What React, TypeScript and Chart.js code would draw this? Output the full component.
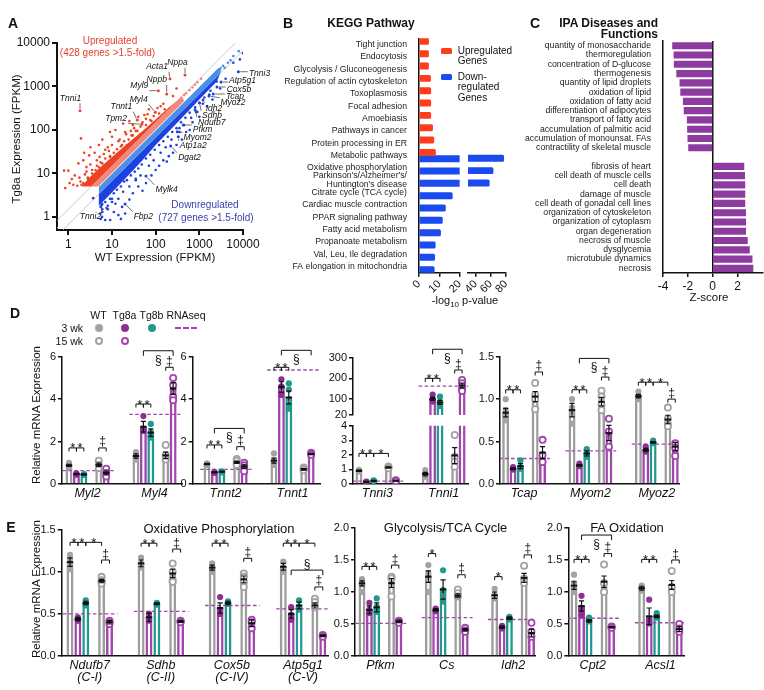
import React, { useEffect, useRef } from "react";
import { Chart, registerables } from "chart.js";

Chart.register(...registerables);

const FONT = "'Liberation Sans', Arial, Helvetica, sans-serif";
const INK = "#111111";
const GRAY = "#9d9d9d";
const GRAY_DOT = "#a3a3a3";
const PURPLE = "#a246ae";
const PURPLE_DOT = "#8e2f96";
const TEAL = "#1e9a8d";
const UP_RED = "#ee4224";
const UP_SALMON = "#f2877c";
const DOWN_BLUE = "#1f40e0";
const DOWN_LIGHT = "#4890ea";
const KEGG_RED = "#ff3d1c";
const KEGG_BLUE = "#1a4af0";
const IPA_PURPLE = "#8e3b9f";

// ================= Panel A data =================
const aTicks = [1, 10, 100, 1000, 10000];
const aFoldCut = 1.5;
const aDiagX = [0.3, 15000];
const aRedPts = [
  [0.8, 11.6], [1.0, 11.6], [1.2, 7.4], [1.7, 17], [1.07, 6], [0.85, 4.6], [1.3, 5.5], [1.4, 9],
  [1.95, 64], [2.2, 20], [2.6, 14], [3.0, 26], [2.3, 30], [4.0, 30], [5.0, 45], [3.5, 12],
  [6.0, 60], [8.0, 40], [10, 70], [12, 100], [7, 35], [15, 60], [20, 90], [18, 140], [25, 160],
  [30, 130], [40, 200], [60, 180], [70, 300], [110, 320], [150, 400], [250, 600], [300, 900],
  [130, 350], [45, 80], [22, 45], [9, 25], [4.5, 15], [2.8, 8], [13, 28], [1.9, 6.5], [2.4, 9.5],
  [5.5, 18], [17, 45], [35, 95], [80, 160], [55, 220], [28, 75], [3.2, 40], [9, 90],
  [2.2, 6], [2.8, 7.5], [3.5, 10], [4.2, 12], [5, 14], [6, 17], [7, 22], [9, 24], [11, 30], [13, 36],
  [16, 42], [19, 55], [24, 60], [30, 75], [38, 95], [45, 120], [60, 130], [75, 170], [90, 210],
  [120, 240], [160, 300], [2.0, 5.5], [2.6, 11], [3.2, 16], [4.5, 20], [6.5, 28], [10, 45], [14, 55],
  [21, 80], [32, 110], [50, 150], [1.6, 5.2], [1.8, 8], [5.2, 24], [8.5, 33], [27, 95], [65, 230],
];
const aSalmonPts = [[500, 700], [600, 820], [700, 950], [900, 1250], [1100, 1500], [450, 640], [800, 1100]];
const aLightPts = [[3500, 3000], [4500, 3500], [6000, 5000], [8000, 6500], [3800, 2700], [5200, 4000]];
const aBluePts = [
  [10000, 5800], [8500, 4200], [6000, 3500], [2500, 1300], [1800, 800], [350, 110], [180, 18.7],
  [5.9, 1.0], [7, 0.85], [9.1, 0.85], [14, 1.1], [17, 1.7], [5.4, 1.2], [8, 1.5], [11, 1.3],
  [6, 2.0], [30, 3.5], [40, 5], [60, 6], [100, 12], [150, 20], [250, 30], [400, 60], [600, 100],
  [1000, 200], [1500, 350], [700, 150], [25, 2.5], [12, 2.0], [50, 4], [80, 9], [120, 15],
  [300, 45], [3.7, 2.7], [5.5, 0.9], [16, 0.9], [500, 90], [2000, 500], [3000, 900], [4000, 1500],
  [20, 1.2], [7.5, 1.6], [10, 2.6], [35, 7], [200, 25], [900, 260],
  [5.5, 1.7], [6, 1.5], [7, 2.2], [9, 2.6], [11, 3.5], [13, 4.2], [16, 5], [19, 6.5], [22, 7], [27, 9],
  [33, 11], [40, 13], [48, 16], [60, 22], [75, 27], [95, 35], [120, 45], [150, 55], [190, 70], [240, 90],
  [300, 110], [380, 150], [480, 190], [600, 250], [800, 330], [1000, 420], [1300, 560], [6, 1.3],
  [8, 1.8], [10, 2.2], [14, 2.6], [18, 3.8], [25, 5], [35, 7.5], [45, 9], [70, 15], [90, 20], [130, 30],
  [170, 40], [230, 60], [350, 90], [450, 130], [650, 190], [850, 260], [1200, 400], [1700, 650],
];
const aRedCloud = [
  [2.0, 5], [3, 8], [5, 13], [10, 24], [20, 44], [50, 95], [100, 175], [200, 330], [300, 460], [300, 450], [3.33, 5],
];
const aSalmonBand = [[3.33, 5], [400, 600], [450, 450], [5, 5]];
const aBlueBand = [[5, 3.33], [3000, 2000], [3300, 2900], [2500, 2500], [5, 5]];
const aBlueCloud = [
  [5, 3.33], [5, 1.8], [8, 2.9], [20, 7.5], [50, 20], [100, 45], [300, 140], [1000, 500], [2500, 1300], [3000, 2000],
];
const aGenes = ["Tnni1", "Acta1", "Nppa", "Nppb", "Myl9", "Myl4", "Tnnt1", "Tpm2", "Tnni3", "Atp5g1", "Cox5b", "Tcap", "Myoz2", "Idh2", "Sdhb", "Ndufb7", "Pfkm", "Myom2", "Atp1a2", "Dgat2", "Mylk4", "Tnni2", "Fbp2"];
const aGeneWT = [1.85, 213, 470, 179, 115, 98, 38, 48, 7816, 3140, 2540, 2090, 1667, 1214, 1010, 797, 430, 313, 330, 221, 60, 5.8, 19.9];
const aGeneTg = [277, 1508, 1835, 671, 799, 255, 169, 135, 2185, 1267, 972, 671, 603, 489, 416, 288, 130, 91, 70, 42.7, 8.7, 1.88, 1.98];
// label placement (pixels, style only)
const aLabelDx = [-9.5, -13, -7.5, -10, -19, -16.6, -16, -25.7, 21.2, 21.5, 22, 21.7, 24, 11, 12.5, 16.7, 19.2, 20.2, 15, 18.8, 20.7, -11.2, 18.3];
const aLabelDy = [-12.4, -12, -12.3, -14, -4.7, -13, -13.3, -6, 1.6, -1, 2.3, 2.7, 6.7, 8.3, 12.7, 12.3, 5, 5.6, 9, 11.7, 14, 11.7, 12.7];

// ================= Panel B data =================
const keggLabels = [
  "Tight junction", "Endocytosis", "Glycolysis / Gluconeogenesis", "Regulation of actin cytoskeleton",
  "Toxoplasmosis", "Focal adhesion", "Amoebiasis", "Pathways in cancer", "Protein processing in ER",
  "Metabolic pathways", "Oxidative phosphorylation", ["Parkinson's/Alzheimer's/", "Huntington's disease"],
  "Citrate cycle (TCA cycle)", "Cardiac muscle contraction", "PPAR signaling pathway",
  "Fatty acid metabolism", "Propanoate metabolism", "Val, Leu, Ile degradation", "FA elongation in mitochondria",
];
const keggUp = [4.7, 4.7, 4.7, 5.7, 5.8, 5.8, 5.8, 6.7, 7.3, 8.1, null, null, null, null, null, null, null, null, null];
const keggDown = [null, null, null, null, null, null, null, null, null, 77, 63, 58, 16.4, 13, 11.5, 10.6, 8, 7.7, 7.5];
const keggTicksLow = [0, 10, 20];
const keggTicksHigh = [40, 60, 80];

// ================= Panel C data =================
const ipaLabels = [
  "quantity of monosaccharide", "thermoregulation", "concentration of D-glucose", "thermogenesis",
  "quantity of lipid droplets", "oxidation of lipid", "oxidation of fatty acid", "differentiation of adipocytes",
  "transport of fatty acid", "accumulation of palmitic acid", "accumulation of monounsat. FAs",
  "contractility of skeletal muscle", "",
  "fibrosis of heart", "cell death of muscle cells", "cell death", "damage of muscle",
  "cell death of gonadal cell lines", "organization of cytoskeleton", "organization of cytoplasm",
  "organ degeneration", "necrosis of muscle", "dysglycemia", "microtubule dynamics", "necrosis",
];
const ipaZ = [-3.23, -3.12, -3.1, -2.9, -2.64, -2.58, -2.37, -2.3, -2.05, -2.03, -2.0, -1.94, null,
  2.52, 2.58, 2.6, 2.6, 2.6, 2.66, 2.66, 2.66, 2.8, 2.96, 3.18, 3.25];
const ipaTicks = [-4, -2, 0, 2];

// ================= Panel D data =================
// groups: [WT 3wk, Tg8a 3wk, Tg8b 3wk, WT 15wk, Tg8a 15wk]
const dNames = ["Myl2", "Myl4", "Tnnt2", "Tnnt1", "Tnni3", "Tnni1", "Tcap", "Myom2", "Myoz2"];
const dMean = [
  [0.88, 0.47, 0.45, 0.9, 0.52],
  [1.32, 2.7, 2.42, 1.35, 4.5],
  [0.94, 0.55, 0.58, 1.02, 0.82],
  [1.1, 4.58, 4.08, 0.69, 1.41],
  [0.91, 0.15, 0.22, 1.14, 0.23],
  [0.68, 100, 82, 1.95, 165],
  [0.84, 0.18, 0.21, 1.03, 0.37],
  [0.87, 0.22, 0.36, 0.97, 0.6],
  [1.035, 0.4, 0.49, 0.76, 0.44],
];
const dSem = [
  [0.05, 0.03, 0.02, 0.08, 0.09],
  [0.1, 0.25, 0.18, 0.15, 0.28],
  [0.03, 0.02, 0.02, 0.05, 0.08],
  [0.12, 0.25, 0.3, 0.04, 0.03],
  [0.04, 0.02, 0.02, 0.04, 0.02],
  [0.12, 8, 10, 0.55, 12],
  [0.05, 0.01, 0.03, 0.06, 0.07],
  [0.08, 0.01, 0.03, 0.05, 0.09],
  [0.02, 0.02, 0.01, 0.05, 0.05],
];
const dPts = [
  [[1.0, 0.88, 0.8], [0.5, 0.47, 0.44], [0.47, 0.45, 0.43], [1.1, 0.9, 0.75], [0.72, 0.52, 0.35]],
  [[1.5, 1.3, 1.15], [3.2, 2.6, 2.5, 2.5], [2.83, 2.45, 2.2, 2.2], [1.84, 1.36, 1.2, 1.15], [5.0, 4.65, 4.1, 3.95]],
  [[0.97, 0.93, 0.9], [0.57, 0.53, 0.52], [0.6, 0.57, 0.55], [1.18, 1.1, 0.97, 0.9], [1.0, 0.88, 0.75, 0.6]],
  [[1.44, 1.1, 1.0, 0.9], [4.93, 4.6, 4.2], [4.74, 4.45, 3.7, 3.55], [0.78, 0.72, 0.65], [1.47, 1.42, 1.38]],
  [[0.97, 0.9, 0.86], [0.17, 0.14, 0.12], [0.25, 0.21, 0.2], [1.2, 1.15, 1.08], [0.26, 0.22, 0.2]],
  [[0.96, 0.68, 0.5], [120, 96, 86], [110, 85, 69, 64], [3.36, 1.87, 1.53, 1.19], [192, 176, 150, 138]],
  [[1.0, 0.87, 0.8, 0.75], [0.2, 0.18, 0.17], [0.28, 0.2, 0.18], [1.19, 1.05, 1.0, 0.88], [0.52, 0.34, 0.26]],
  [[1.0, 0.9, 0.86, 0.71], [0.24, 0.22, 0.21], [0.41, 0.35, 0.32], [1.1, 1.03, 0.93, 0.87], [0.77, 0.62, 0.44]],
  [[1.09, 1.04, 1.0], [0.44, 0.4, 0.38], [0.51, 0.49, 0.48], [0.9, 0.77, 0.7, 0.68], [0.48, 0.43, 0.33]],
];
const dRna = [0.63, 3.28, 0.69, 5.37, 0.2, 162, 0.3, 0.39, 0.47];
// [gene, fromGroup, toGroup, y, symbol, kind(0 small,1 big symbol below,2 big symbol above)]
const dBrk = [
  [0, 0, 1, 1.7, "*", 0], [0, 1, 2, 1.7, "*", 0], [0, 3, 4, 1.7, "‡", 0],
  [1, 0, 1, 3.77, "*", 0], [1, 1, 2, 3.77, "*", 0], [1, 3, 4, 5.5, "‡", 0], [1, 1, 4, 6.28, "§", 1],
  [2, 0, 1, 1.84, "*", 0], [2, 1, 2, 1.84, "*", 0], [2, 3, 4, 1.76, "‡", 0], [2, 1, 4, 2.62, "§", 1],
  [3, 0, 1, 5.5, "*", 0], [3, 1, 2, 5.5, "*", 0], [3, 1, 4, 6.3, "§", 1],
  [4, 0, 1, 2.1, "*", 0], [4, 1, 2, 2.1, "*", 0], [4, 2, 3, 2.1, "*", 0],
  [5, 0, 1, 200, "*", 0], [5, 1, 2, 200, "*", 0], [5, 3, 4, 241, "‡", 0], [5, 1, 4, 343, "§", 1],
  [6, 0, 1, 1.11, "*", 0], [6, 1, 2, 1.11, "*", 0], [6, 3, 4, 1.32, "‡", 0],
  [7, 0, 1, 1.11, "*", 0], [7, 1, 2, 1.11, "*", 0], [7, 3, 4, 1.26, "‡", 0], [7, 1, 4, 1.48, "§", 1],
  [8, 0, 1, 1.2, "*", 0], [8, 1, 2, 1.2, "*", 0], [8, 2, 3, 1.2, "*", 0], [8, 3, 4, 1.0, "‡", 0],
];

// ================= Panel E data =================
const eNames = [["Ndufb7", "(C-I)"], ["Sdhb", "(C-II)"], ["Cox5b", "(C-IV)"], ["Atp5g1", "(C-V)"], "Pfkm", "Cs", "Idh2", "Cpt2", "Acsl1"];
const eMean = [
  [1.115, 0.44, 0.63, 0.89, 0.4],
  [1.1, 0.46, 0.62, 0.98, 0.41],
  [1.05, 0.57, 0.63, 0.91, 0.39],
  [1.06, 0.5, 0.6, 0.6, 0.24],
  [1.135, 0.72, 0.76, 1.14, 0.54],
  [1.24, 0.72, 1.04, 0.94, 0.41],
  [0.95, 0.45, 0.59, 1.22, 0.36],
  [1.1, 0.78, 0.55, 1.16, 0.45],
  [1.06, 0.62, 0.62, 1.11, 0.42],
];
const eSem = [
  [0.05, 0.02, 0.02, 0.02, 0.02],
  [0.04, 0.05, 0.01, 0.05, 0.01],
  [0.03, 0.06, 0.02, 0.04, 0.04],
  [0.04, 0.05, 0.04, 0.03, 0.01],
  [0.04, 0.06, 0.07, 0.07, 0.02],
  [0.09, 0.02, 0.15, 0.03, 0.02],
  [0.05, 0.02, 0.02, 0.07, 0.06],
  [0.06, 0.08, 0.02, 0.09, 0.01],
  [0.03, 0.13, 0.02, 0.07, 0.04],
];
const ePts = [
  [[1.2, 1.15, 1.08, 1.03], [0.46, 0.43, 0.42], [0.66, 0.62, 0.6], [0.94, 0.9, 0.88, 0.86], [0.42, 0.4, 0.38]],
  [[1.17, 1.1, 1.05], [0.5, 0.45, 0.42], [0.63, 0.62, 0.61], [1.1, 1.0, 0.9, 0.88], [0.42, 0.41, 0.4]],
  [[1.1, 1.05, 1.0], [0.7, 0.55, 0.5], [0.65, 0.63, 0.62], [0.98, 0.94, 0.88, 0.82], [0.43, 0.4, 0.33]],
  [[1.12, 1.05, 1.0], [0.58, 0.49, 0.43], [0.66, 0.58, 0.55], [0.68, 0.64, 0.58], [0.25, 0.24, 0.23]],
  [[1.2, 1.15, 1.12, 1.0], [0.83, 0.72, 0.67], [0.9, 0.77, 0.69], [1.24, 1.21, 0.93], [0.55, 0.54, 0.52]],
  [[1.42, 1.3, 1.25, 1.0], [0.74, 0.72, 0.7], [1.34, 1.03, 0.85], [1.04, 0.98, 0.93], [0.44, 0.4, 0.38]],
  [[1.05, 0.95, 0.9], [0.47, 0.45, 0.43], [0.61, 0.59, 0.57], [1.41, 1.21, 1.14], [0.52, 0.38, 0.3]],
  [[1.27, 1.14, 1.03, 1.0], [0.94, 0.74, 0.72, 0.64], [0.6, 0.56, 0.54], [1.43, 1.14, 1.0], [0.46, 0.45, 0.44]],
  [[1.1, 1.07, 1.02], [0.88, 0.56, 0.51], [0.67, 0.63, 0.6], [1.33, 1.08, 1.0], [0.5, 0.43, 0.38]],
];
const eRna = [0.5, 0.53, 0.6, 0.56, 0.51, 0.6, 0.57, 0.59, 0.52];
const eBrk = [
  [0, 0, 1, 1.35, "*", 0], [0, 1, 2, 1.35, "*", 0], [0, 2, 3, 1.35, "*", 0], [0, 3, 4, 1.14, "‡", 0],
  [1, 0, 1, 1.34, "*", 0], [1, 1, 2, 1.34, "*", 0], [1, 3, 4, 1.27, "‡", 0],
  [2, 0, 1, 1.34, "*", 0], [2, 1, 2, 1.34, "*", 0], [2, 3, 4, 1.16, "‡", 0],
  [3, 0, 1, 1.34, "*", 0], [3, 1, 2, 1.34, "*", 0], [3, 2, 3, 1.34, "*", 0], [3, 1, 4, 1.02, "§", 2], [3, 3, 4, 0.82, "‡", 0],
  [4, 0, 1, 1.4, "*", 0], [4, 1, 2, 1.4, "*", 0], [4, 3, 4, 1.42, "‡", 0],
  [5, 0, 1, 1.6, "*", 0], [5, 3, 4, 1.27, "‡", 0],
  [6, 0, 1, 1.24, "*", 0], [6, 3, 4, 1.58, "‡", 0],
  [7, 0, 1, 1.51, "*", 0], [7, 1, 2, 1.51, "*", 0], [7, 3, 4, 1.6, "‡", 0], [7, 1, 4, 1.89, "§", 1],
  [8, 0, 1, 1.51, "*", 0], [8, 1, 2, 1.51, "*", 0], [8, 3, 4, 1.5, "‡", 0],
];

const dSet = { names: dNames, mean: dMean, sem: dSem, pts: dPts, rna: dRna, brk: dBrk };
const eSet = { names: eNames, mean: eMean, sem: eSem, pts: ePts, rna: eRna, brk: eBrk };

// ================= layout / style =================
const GENE_STEP = 9;
const SLOT = [0, 1, 2, 4, 5];
const LABEL_POS = 2.5;
const RNA_FROM = -0.9;
const RNA_TO = 6.0;
const BAR_LINE = [GRAY, PURPLE, TEAL, GRAY, PURPLE];
const DOT_FILL = [GRAY_DOT, PURPLE_DOT, TEAL, "#ffffff", "#ffffff"];
const DOT_LINE = [GRAY_DOT, PURPLE_DOT, TEAL, GRAY_DOT, PURPLE];
const DOT_BW = [0, 0, 0, 1.8, 1.8];

type Box = { x: number; y: number; w: number; h: number };
type Area = { l: number; t: number; r: number; b: number };

function frame(box: Box, area: Area, o: { hideX?: boolean; hideY?: boolean }) {
  const yw = area.l - box.x;
  const xh = box.y + box.h - area.b;
  return {
    padding: { top: area.t - box.y, right: box.x + box.w - area.r, left: o.hideY ? yw : 0, bottom: o.hideX ? xh : 0 },
    yw,
    xh,
  };
}

const axisBorder = { display: true, color: INK, width: 1.5 };
const tickGrid = { display: true, drawOnChartArea: false, drawTicks: true, tickLength: 4, color: INK, lineWidth: 1.5 };
const baseOpts = {
  animation: false,
  responsive: false,
  maintainAspectRatio: false,
  events: [],
};
const noPlugins = { legend: { display: false }, tooltip: { enabled: false } };

const boxA: Box = { x: 0, y: 30, w: 290, h: 250 };
const areaA: Area = { l: 57, t: 43, r: 243, b: 230 };
const boxB1: Box = { x: 285, y: 30, w: 185, h: 272 };
const areaB1: Area = { l: 419, t: 37.5, r: 460, b: 272.7 };
const boxB2: Box = { x: 452, y: 30, w: 70, h: 272 };
const areaB2: Area = { l: 468, t: 37.5, r: 506, b: 272.7 };
const boxC: Box = { x: 515, y: 30, w: 249, h: 282 };
const areaC: Area = { l: 663, t: 41.1, r: 762.3, b: 273 };

const xy = (arr: number[][]) => arr.map(([x, y]) => ({ x, y }));

function configA(): any {
  const f = frame(boxA, areaA, {});
  const poly = (pts: number[][], color: string, order: number) => ({
    type: "line", data: xy(pts), fill: "shape", backgroundColor: color, borderColor: "rgba(0,0,0,0)",
    borderWidth: 0, pointRadius: 0, tension: 0, order,
  });
  const pts = (arr: number[][], color: string, order: number) => ({
    type: "scatter", data: xy(arr), backgroundColor: color, pointRadius: 1.3, borderWidth: 0, order,
  });
  const labelPlugin = {
    id: "aLabels",
    afterDatasetsDraw(chart: any) {
      const { ctx } = chart;
      const x = chart.scales.x, y = chart.scales.y;
      ctx.save();
      ctx.font = `italic 8.5px ${FONT}`;
      ctx.fillStyle = INK;
      ctx.strokeStyle = "#333";
      ctx.lineWidth = 0.7;
      ctx.textAlign = "center";
      ctx.textBaseline = "middle";
      aGenes.forEach((name, i) => {
        const px = x.getPixelForValue(aGeneWT[i]);
        const py = y.getPixelForValue(aGeneTg[i]);
        const tx = px + aLabelDx[i], ty = py + aLabelDy[i];
        const w = ctx.measureText(name).width;
        const l = tx - w / 2 - 1, r = tx + w / 2 + 1, t = ty - 5, b = ty + 5;
        const ex = Math.min(Math.max(px, l), r), ey = Math.min(Math.max(py, t), b);
        const dx = ex - px, dy = ey - py, d = Math.hypot(dx, dy);
        if (d > 3) {
          ctx.beginPath();
          ctx.moveTo(px + (dx / d) * 2, py + (dy / d) * 2);
          ctx.lineTo(ex, ey);
          ctx.stroke();
        }
        ctx.fillText(name, tx, ty);
      });
      ctx.restore();
    },
  };
  const axisFont = { family: FONT, size: 12 };
  return {
    type: "scatter",
    data: {
      datasets: [
        { type: "line", data: aDiagX.map((v) => ({ x: v, y: v * aFoldCut })), borderColor: "#bdbdbd", borderWidth: 0.8, pointRadius: 0, order: 20 },
        { type: "line", data: aDiagX.map((v) => ({ x: v, y: v / aFoldCut })), borderColor: "#bdbdbd", borderWidth: 0.8, pointRadius: 0, order: 20 },
        poly(aBlueCloud, DOWN_BLUE, 15),
        poly(aRedCloud, UP_RED, 15),
        poly(aBlueBand, DOWN_LIGHT, 14),
        poly(aSalmonBand, UP_SALMON, 14),
        { type: "line", data: aDiagX.map((v) => ({ x: v, y: v })), borderColor: "#ffffff", borderWidth: 0.9, pointRadius: 0, order: 13 },
        pts(aBluePts, DOWN_BLUE, 10),
        pts(aRedPts, UP_RED, 10),
        pts(aSalmonPts, UP_SALMON, 10),
        pts(aLightPts, DOWN_LIGHT, 10),
        {
          type: "scatter",
          data: aGenes.map((_, i) => ({ x: aGeneWT[i], y: aGeneTg[i] })),
          backgroundColor: aGenes.map((_, i) => (aGeneTg[i] > aGeneWT[i] ? UP_RED : DOWN_BLUE)),
          pointRadius: 1.5, borderWidth: 0, order: 5,
        },
      ],
    },
    options: {
      ...baseOpts,
      layout: { padding: f.padding },
      plugins: noPlugins,
      scales: {
        x: {
          type: "logarithmic", min: 0.55, max: 10000,
          afterBuildTicks: (s: any) => { s.ticks = aTicks.map((v) => ({ value: v })); },
          afterFit: (s: any) => { s.height = f.xh; },
          ticks: { font: axisFont, color: INK, padding: 2, maxRotation: 0, autoSkip: false, callback: (v: any) => String(v) },
          grid: { ...tickGrid, tickLength: 5, lineWidth: 2 },
          border: { ...axisBorder, width: 2 },
        },
        y: {
          type: "logarithmic", min: 0.5, max: 10000,
          afterBuildTicks: (s: any) => { s.ticks = aTicks.map((v) => ({ value: v })); },
          afterFit: (s: any) => { s.width = f.yw; },
          ticks: { font: axisFont, color: INK, padding: 2, autoSkip: false, callback: (v: any) => String(v) },
          grid: { ...tickGrid, tickLength: 5, lineWidth: 2 },
          border: { ...axisBorder, width: 2 },
        },
      },
    },
    plugins: [labelPlugin],
  };
}

function configKegg(high: boolean): any {
  const box = high ? boxB2 : boxB1;
  const area = high ? areaB2 : areaB1;
  const f = frame(box, area, { hideY: high });
  const ds = (data: any[], color: string) => ({
    data, backgroundColor: color, borderWidth: 0, barThickness: 6.3, clip: 0, borderRadius: 1.5,
  });
  return {
    type: "bar",
    data: { labels: keggLabels, datasets: [ds(keggUp, KEGG_RED), ds(keggDown, KEGG_BLUE)] },
    options: {
      ...baseOpts,
      indexAxis: "y",
      layout: { padding: f.padding },
      plugins: noPlugins,
      scales: {
        x: {
          type: "linear", min: high ? 30 : 0, max: high ? 80 : 20,
          afterBuildTicks: (s: any) => { s.ticks = (high ? keggTicksHigh : keggTicksLow).map((v) => ({ value: v })); },
          afterFit: (s: any) => { s.height = f.xh; },
          ticks: { font: { family: FONT, size: 11 }, color: INK, minRotation: 45, maxRotation: 45, padding: 1, autoSkip: false },
          grid: tickGrid,
          border: axisBorder,
        },
        y: {
          display: !high,
          afterFit: high ? undefined : (s: any) => { s.width = f.yw; },
          ticks: { font: { family: FONT, size: 8.7, lineHeight: 1.0 }, color: "#222", autoSkip: false, padding: 4 },
          grid: { display: false },
          border: axisBorder,
        },
      },
    },
  };
}

function configIpa(): any {
  const f = frame(boxC, areaC, {});
  return {
    type: "bar",
    data: { labels: ipaLabels, datasets: [{ data: ipaZ, backgroundColor: IPA_PURPLE, borderWidth: 0, barThickness: 6.5 }] },
    options: {
      ...baseOpts,
      indexAxis: "y",
      layout: { padding: f.padding },
      plugins: noPlugins,
      scales: {
        x: {
          type: "linear", min: -4, max: 4,
          afterBuildTicks: (s: any) => { s.ticks = ipaTicks.map((v) => ({ value: v })); },
          afterFit: (s: any) => { s.height = f.xh; },
          ticks: { font: { family: FONT, size: 12 }, color: INK, padding: 2, maxRotation: 0, autoSkip: false },
          grid: {
            display: true, drawOnChartArea: true, drawTicks: true, tickLength: 4, lineWidth: 1.5,
            color: (c: any) => (c.tick && c.tick.value === 0 ? INK : "rgba(0,0,0,0)"),
            tickColor: INK,
          },
          border: axisBorder,
        },
        y: {
          afterFit: (s: any) => { s.width = f.yw; },
          ticks: { font: { family: FONT, size: 8.7 }, color: "#222", autoSkip: false, padding: 4 },
          grid: { display: false },
          border: axisBorder,
        },
      },
    },
  };
}

type Spec = {
  key: string; set: any; genes: number[]; box: Box; area: Area; xMin: number; xMax: number;
  yMin: number; yMax: number; yTicks: number[]; dec: number; showX: boolean; clip: boolean;
};

function dotBarPlugin(p: Spec) {
  return {
    id: "dotbar",
    afterDatasetsDraw(chart: any) {
      const { ctx, chartArea: ca } = chart;
      const xs = chart.scales.x, ys = chart.scales.y;
      const S = p.set;
      ctx.save();
      if (p.clip) {
        ctx.beginPath();
        ctx.rect(ca.left, ca.top, ca.right - ca.left, ca.bottom - ca.top);
        ctx.clip();
      }
      ctx.strokeStyle = INK;
      p.genes.forEach((g, k) => {
        S.mean[g].forEach((m: number, j: number) => {
          const x = xs.getPixelForValue(k * GENE_STEP + SLOT[j]);
          const s = S.sem[g][j];
          const yt = ys.getPixelForValue(m + s), yb = ys.getPixelForValue(m - s), ym = ys.getPixelForValue(m);
          ctx.lineWidth = 1.2;
          ctx.beginPath();
          ctx.moveTo(x, yt); ctx.lineTo(x, yb);
          ctx.moveTo(x - 2.6, yt); ctx.lineTo(x + 2.6, yt);
          ctx.moveTo(x - 2.6, yb); ctx.lineTo(x + 2.6, yb);
          ctx.stroke();
          ctx.lineWidth = 2;
          ctx.beginPath();
          ctx.moveTo(x - 3.2, ym); ctx.lineTo(x + 3.2, ym);
          ctx.stroke();
        });
      });
      ctx.restore();

      ctx.save();
      ctx.strokeStyle = INK;
      ctx.fillStyle = INK;
      ctx.lineWidth = 1;
      ctx.textAlign = "center";
      S.brk.forEach((b: any[]) => {
        const [g, a, c, yv, sym, kind] = b;
        const k = p.genes.indexOf(g);
        if (k < 0) return;
        if (yv < p.yMin || yv > p.yMax * 1.3) return;
        const x1 = xs.getPixelForValue(k * GENE_STEP + SLOT[a]);
        const x2 = xs.getPixelForValue(k * GENE_STEP + SLOT[c]);
        const y = ys.getPixelForValue(yv);
        const drop = kind === 0 ? 3.5 : 5;
        ctx.beginPath();
        ctx.moveTo(x1, y + drop); ctx.lineTo(x1, y); ctx.lineTo(x2, y); ctx.lineTo(x2, y + drop);
        ctx.stroke();
        const mx = (x1 + x2) / 2;
        if (sym === "*") {
          ctx.font = `13px ${FONT}`;
          ctx.textBaseline = "alphabetic";
          ctx.fillText(sym, mx, y + 4.5);
        } else {
          ctx.font = `12px ${FONT}`;
          ctx.textBaseline = "alphabetic";
          if (kind === 1) ctx.fillText(sym, mx, y + 13);
          else ctx.fillText(sym, mx, y - 2.5);
        }
      });
      ctx.restore();
    },
  };
}

function configDotBar(p: Spec): any {
  const S = p.set;
  const f = frame(p.box, p.area, { hideX: !p.showX });
  const inRange = (v: number) => !p.clip || (v >= p.yMin && v <= p.yMax);
  const bars: any[] = [];
  const barColors: string[] = [];
  const dots: any[][] = [[], [], [], [], []];
  const rna: any[] = [];
  p.genes.forEach((g, k) => {
    const base = k * GENE_STEP;
    S.mean[g].forEach((m: number, j: number) => {
      bars.push({ x: base + SLOT[j], y: m });
      barColors.push(BAR_LINE[j]);
    });
    S.pts[g].forEach((arr: number[], j: number) =>
      arr.forEach((v) => { if (inRange(v)) dots[j].push({ x: base + SLOT[j], y: v }); }));
    const r = inRange(S.rna[g]) ? S.rna[g] : null;
    rna.push({ x: base + RNA_FROM, y: r }, { x: base + RNA_TO, y: r }, { x: base + RNA_TO + 0.4, y: null });
  });
  const clip = p.clip ? 0 : undefined;
  const datasets: any[] = [
    { type: "bar", data: bars, borderColor: barColors, backgroundColor: "rgba(255,255,255,0)", borderWidth: 1.8, barThickness: 6.3, order: 6, clip },
    { type: "line", data: rna, borderColor: PURPLE, borderWidth: 1.4, borderDash: [3.5, 2.5], pointRadius: 0, spanGaps: false, order: 5, clip },
    ...dots.map((d, j) => ({
      type: "scatter", data: d, pointRadius: 3.1, pointBackgroundColor: DOT_FILL[j], pointBorderColor: DOT_LINE[j],
      pointBorderWidth: DOT_BW[j], order: j > 2 ? 3 : 4, clip,
    })),
  ];
  return {
    type: "bar",
    data: { datasets },
    options: {
      ...baseOpts,
      layout: { padding: f.padding },
      plugins: noPlugins,
      scales: {
        x: {
          type: "linear", display: p.showX, min: p.xMin, max: p.xMax, offset: false,
          afterBuildTicks: (s: any) => { s.ticks = p.genes.map((_, k) => ({ value: k * GENE_STEP + LABEL_POS })); },
          afterFit: p.showX ? (s: any) => { s.height = f.xh; } : undefined,
          ticks: {
            autoSkip: false, maxRotation: 0, minRotation: 0, padding: 3, color: INK,
            font: { family: FONT, size: 12.5, style: "italic", lineHeight: 1.0 },
            callback: (_v: any, i: number) => S.names[p.genes[i]],
          },
          grid: { display: false, drawTicks: false, tickLength: 0 },
          border: axisBorder,
        },
        y: {
          type: "linear", min: p.yMin, max: p.yMax,
          afterBuildTicks: (s: any) => { s.ticks = p.yTicks.map((v) => ({ value: v })); },
          afterFit: (s: any) => { s.width = f.yw; },
          ticks: { font: { family: FONT, size: 11 }, color: INK, padding: 2, autoSkip: false, callback: (v: any) => Number(v).toFixed(p.dec) },
          grid: tickGrid,
          border: axisBorder,
        },
      },
    },
    plugins: [dotBarPlugin(p)],
  };
}

const panels: Spec[] = [
  { key: "d1", set: dSet, genes: [0, 1], box: { x: 38, y: 335, w: 150, h: 175 }, area: { l: 62, t: 356.7, r: 182, b: 484 }, xMin: -0.94, xMax: 15.19, yMin: 0, yMax: 6, yTicks: [0, 2, 4, 6], dec: 0, showX: true, clip: false },
  { key: "d2", set: dSet, genes: [2, 3], box: { x: 166, y: 335, w: 160, h: 175 }, area: { l: 192.7, t: 356.7, r: 320, b: 484 }, xMin: -1.92, xMax: 15.19, yMin: 0, yMax: 6, yTicks: [0, 2, 4, 6], dec: 0, showX: true, clip: false },
  { key: "d3u", set: dSet, genes: [4, 5], box: { x: 322, y: 335, w: 152, h: 92 }, area: { l: 353, t: 358, r: 468.3, b: 415 }, xMin: -0.81, xMax: 14.83, yMin: 20, yMax: 300, yTicks: [20, 100, 200, 300], dec: 0, showX: false, clip: true },
  { key: "d3l", set: dSet, genes: [4, 5], box: { x: 322, y: 416, w: 152, h: 94 }, area: { l: 353, t: 425.7, r: 468.3, b: 484 }, xMin: -0.81, xMax: 14.83, yMin: 0, yMax: 4, yTicks: [0, 1, 2, 3, 4], dec: 0, showX: true, clip: true },
  { key: "d4", set: dSet, genes: [6, 7, 8], box: { x: 474, y: 335, w: 212, h: 175 }, area: { l: 500, t: 356.7, r: 679.3, b: 484 }, xMin: -0.77, xMax: 23.55, yMin: 0, yMax: 1.5, yTicks: [0, 0.5, 1, 1.5], dec: 1, showX: true, clip: false },
  { key: "e1", set: eSet, genes: [0, 1, 2, 3], box: { x: 36, y: 505, w: 298, h: 185 }, area: { l: 61.7, t: 529.7, r: 328, b: 656 }, xMin: -1.05, xMax: 32.66, yMin: 0, yMax: 1.5, yTicks: [0, 0.5, 1, 1.5], dec: 1, showX: true, clip: false },
  { key: "e2", set: eSet, genes: [4, 5, 6], box: { x: 329, y: 505, w: 213, h: 185 }, area: { l: 355, t: 528, r: 535.7, b: 656 }, xMin: -0.95, xMax: 23.57, yMin: 0, yMax: 2, yTicks: [0, 0.5, 1, 1.5, 2], dec: 1, showX: true, clip: false },
  { key: "e3", set: eSet, genes: [7, 8], box: { x: 542, y: 505, w: 149, h: 185 }, area: { l: 568.3, t: 528, r: 684, b: 656 }, xMin: -0.76, xMax: 14.63, yMin: 0, yMax: 2, yTicks: [0, 0.5, 1, 1.5, 2], dec: 1, showX: true, clip: false },
];

function ChartBox({ box, make }: { box: Box; make: () => any }) {
  const ref = useRef<HTMLCanvasElement | null>(null);
  useEffect(() => {
    const chart = new Chart(ref.current as HTMLCanvasElement, make());
    return () => chart.destroy();
  }, []);
  return (
    <canvas
      ref={ref}
      width={box.w}
      height={box.h}
      style={{ position: "absolute", left: box.x, top: box.y, width: box.w, height: box.h }}
    />
  );
}

type TP = { x: number; y: number; s: number; b?: boolean; i?: boolean; c?: string; a?: "l" | "c" | "r"; rot?: boolean; children: any };
function Txt({ x, y, s, b, i, c, a = "c", rot, children }: TP) {
  const tx = a === "c" ? "-50%" : a === "r" ? "-100%" : "0";
  return (
    <div
      style={{
        position: "absolute", left: x, top: y,
        transform: `translate(${tx},-50%)${rot ? " rotate(-90deg)" : ""}`,
        font: `${i ? "italic " : ""}${b ? "bold " : ""}${s}px ${FONT}`,
        color: c || INK, whiteSpace: "nowrap", lineHeight: 1,
      }}
    >
      {children}
    </div>
  );
}

function Dot({ x, y, color, open }: { x: number; y: number; color: string; open?: boolean }) {
  return (
    <div
      style={{
        position: "absolute", left: x - 4, top: y - 4, width: 8, height: 8, borderRadius: "50%", boxSizing: "border-box",
        background: open ? "#fff" : color, border: open ? `2px solid ${color}` : "none",
      }}
    />
  );
}

export default function App() {
  return (
    <div style={{ position: "absolute", left: 0, top: 0, width: 764, height: 690, overflow: "hidden", background: "#fff" }}>
      <ChartBox box={boxA} make={configA} />
      <ChartBox box={boxB1} make={() => configKegg(false)} />
      <ChartBox box={boxB2} make={() => configKegg(true)} />
      <ChartBox box={boxC} make={configIpa} />
      {panels.map((p) => (
        <ChartBox key={p.key} box={p.box} make={() => configDotBar(p)} />
      ))}

      {/* Panel A text */}
      <Txt x={13} y={22.7} s={14} b>A</Txt>
      <Txt x={110} y={40.7} s={10} c="#e4412f">Upregulated</Txt>
      <Txt x={107.5} y={53.3} s={10} c="#e4412f">(428 genes &gt;1.5-fold)</Txt>
      <Txt x={205} y={205} s={10} c="#3b3fae">Downregulated</Txt>
      <Txt x={206} y={218.3} s={10} c="#3b3fae">(727 genes &gt;1.5-fold)</Txt>
      <Txt x={16.5} y={139} s={11.5} rot>Tg8a Expression (FPKM)</Txt>
      <Txt x={155} y={257.7} s={11.5}>WT Expression (FPKM)</Txt>

      {/* Panel B text */}
      <Txt x={288} y={22.7} s={14} b>B</Txt>
      <Txt x={371} y={22.7} s={12} b>KEGG Pathway</Txt>
      <div style={{ position: "absolute", left: 441, top: 47.5, width: 10.5, height: 6.5, background: KEGG_RED, borderRadius: 1.5 }} />
      <div style={{ position: "absolute", left: 441, top: 73.5, width: 10.5, height: 6.5, background: KEGG_BLUE, borderRadius: 1.5 }} />
      <Txt x={457.7} y={50.7} s={10} a="l">Upregulated</Txt>
      <Txt x={457.7} y={61} s={10} a="l">Genes</Txt>
      <Txt x={457.7} y={76.7} s={10} a="l">Down-</Txt>
      <Txt x={457.7} y={87.3} s={10} a="l">regulated</Txt>
      <Txt x={457.7} y={97.7} s={10} a="l">Genes</Txt>
      <Txt x={465} y={301.7} s={11}>-log<sub style={{ fontSize: 8 }}>10</sub> p-value</Txt>

      {/* Panel C text */}
      <Txt x={535} y={22.7} s={14} b>C</Txt>
      <Txt x={658} y={22.7} s={12} b a="r">IPA Diseases and</Txt>
      <Txt x={658} y={34} s={12} b a="r">Functions</Txt>
      <Txt x={709} y={298.3} s={11.5}>Z-score</Txt>

      {/* Panel D text + legend */}
      <Txt x={15} y={313} s={14} b>D</Txt>
      <Txt x={98.5} y={315} s={10.5}>WT</Txt>
      <Txt x={124.5} y={315} s={10.5}>Tg8a</Txt>
      <Txt x={151.5} y={315} s={10.5}>Tg8b</Txt>
      <Txt x={186} y={315} s={10.5}>RNAseq</Txt>
      <Txt x={83} y={327.5} s={10.5} a="r">3 wk</Txt>
      <Txt x={83} y={341} s={10.5} a="r">15 wk</Txt>
      <Dot x={98.5} y={328} color={GRAY_DOT} />
      <Dot x={124.5} y={328} color={PURPLE_DOT} />
      <Dot x={151.5} y={328} color={TEAL} />
      <Dot x={98.5} y={341} color={GRAY_DOT} open />
      <Dot x={124.5} y={341} color={PURPLE} open />
      <div style={{ position: "absolute", left: 175, top: 327, width: 22, height: 0, borderTop: `2px dashed ${PURPLE}` }} />
      <Txt x={37} y={415} s={11.5} rot>Relative mRNA Expression</Txt>

      {/* Panel E text */}
      <Txt x={11} y={527} s={14} b>E</Txt>
      <Txt x={219} y={528} s={13}>Oxidative Phosphorylation</Txt>
      <Txt x={445.6} y={527} s={13}>Glycolysis/TCA Cycle</Txt>
      <Txt x={627} y={527} s={13}>FA Oxidation</Txt>
      <Txt x={37} y={589} s={11.5} rot>Relative mRNA Expression</Txt>
    </div>
  );
}
